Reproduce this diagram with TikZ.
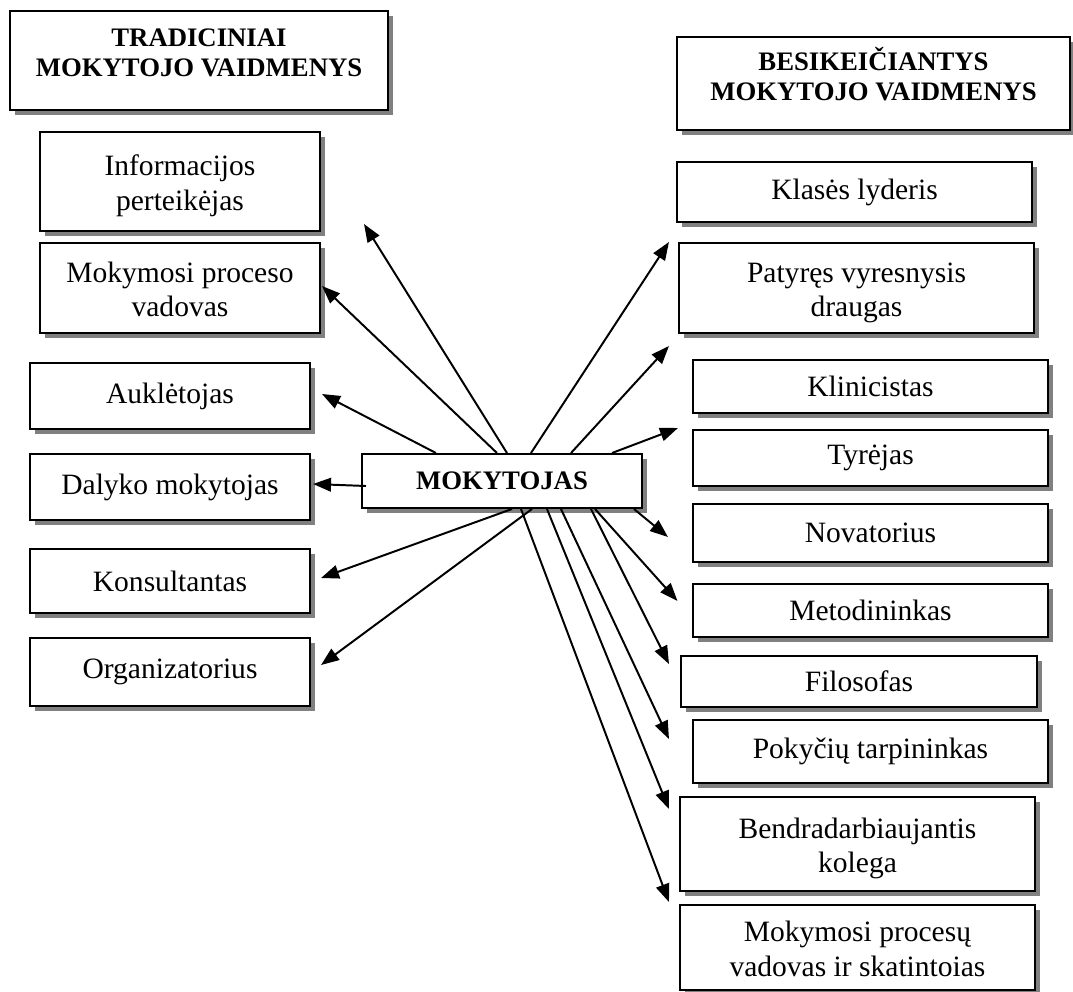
\documentclass[tikz,border=0pt]{standalone}
\usepackage{fontspec}
\setmainfont{Liberation Serif}
\usetikzlibrary{
  arrows.meta,
  calc,
  shadows
}
\tikzset{
  role/.style={
    draw,
    line width=1.4pt,
    fill=white,
    drop shadow={shadow xshift=0.13cm, shadow yshift=-0.13cm, fill=black!50, opacity=1},
    align=center,
    inner sep=0pt,
    font=\fontsize{21}{24.5}\selectfont},
  pair/.style={
    text height=1.55cm,
    text depth=0.11cm},
  head/.style={
    role,
    font=\fontsize{19}{21.3}\selectfont\bfseries},
  link/.style={
    -{Triangle[length=0.45cm,width=0.34cm]},
    line width=1.4pt}
  }

\begin{document}
\begin{tikzpicture}[x=0.025cm, y=-0.025cm]
    \useasboundingbox (0,0) rectangle (1073,992);
    \node[head, minimum width=9.45cm, minimum height=2.475cm, text height=0.9cm, text depth=0.1cm] (trad) at (199,60.5) {TRADICINIAI\\MOKYTOJO VAIDMENYS};
    \node[head, minimum width=9.825cm, minimum height=2.325cm, text height=0.925cm, text depth=0.1cm] (besi) at (873.5,83.5) {BESIKEIČIANTYS\\MOKYTOJO VAIDMENYS};
    \node[role, pair, minimum width=7cm, minimum height=2.475cm] (info) at (180,181.5) {Informacijos\\perteikėjas};
    \node[role, pair, minimum width=7cm, minimum height=2.25cm] (mpv) at (180,288) {Mokymosi proceso\\vadovas};
    \node[role, minimum width=7cm, minimum height=1.65cm] (auk) at (170,396) {Auklėtojas};
    \node[role, minimum width=7cm, minimum height=1.65cm] (dal) at (170,487) {Dalyko mokytojas};
    \node[role, minimum width=7cm, minimum height=1.6cm] (kon) at (170,581) {Konsultantas};
    \node[role, minimum width=7cm, minimum height=1.7cm] (org) at (170,672) {Organizatorius};
    \node[head, minimum width=7cm, minimum height=1.35cm] (mok) at (502,481) {MOKYTOJAS};
    \node[role, minimum width=8.875cm, minimum height=1.5cm] (kla) at (854.5,192) {Klasės lyderis};
    \node[role, pair, minimum width=8.875cm, minimum height=2.25cm] (pat) at (856.5,288) {Patyręs vyresnysis\\draugas};
    \node[role, minimum width=8.875cm, minimum height=1.325cm] (kli) at (870.5,386.5) {Klinicistas};
    \node[role, minimum width=8.875cm, minimum height=1.4cm] (tyr) at (870.5,458) {Tyrėjas};
    \node[role, minimum width=8.875cm, minimum height=1.45cm] (nov) at (870.5,533) {Novatorius};
    \node[role, minimum width=8.875cm, minimum height=1.325cm] (met) at (870.5,610.5) {Metodininkas};
    \node[role, minimum width=8.9cm, minimum height=1.275cm] (fil) at (859,681.5) {Filosofas};
    \node[role, minimum width=8.875cm, minimum height=1.575cm] (pok) at (870.5,751.5) {Pokyčių tarpininkas};
    \node[role, pair, minimum width=8.875cm, minimum height=2.35cm] (ben) at (857.5,844) {Bendradarbiaujantis\\kolega};
    \node[role, pair, minimum width=8.875cm, minimum height=2.125cm] (mps) at (857.5,947.5) {Mokymosi procesų\\vadovas ir skatintoias};
    \path [link]
      ($(mok.north west)+(146,0)$) edge ($(info.south east)+(43,-8)$)
      ($(mok.north west)+(136,0)$) edge ($(mpv.east)+(1,-2)$)
      ($(mok.north west)+(75,0)$) edge ($(auk.east)+(11,-2)$)
      ($(mok.west)+(5,5)$) edge ($(dal.east)+(2,-3)$)
      ($(mok.south west)+(151,0)$) edge ($(kon.east)+(10,-3)$)
      ($(mok.south west)+(171,0)$) edge ($(org.east)+(10,-7)$);
    \path [link]
      ($(mok.north west)+(170,0)$) edge ($(pat.north west)+(-9,0)$)
      ($(mok.north west)+(210,0)$) edge ($(pat.south west)+(-9,12)$)
      ($(mok.north west)+(251,0)$) edge ($(tyr.north west)+(-14,-1)$)
      ($(mok.south west)+(273,0)$) edge ($(nov.west)+(-24,4)$)
      ($(mok.south west)+(234,0)$) edge ($(met.west)+(-14.5,-9.5)$)
      ($(mok.south west)+(230,0)$) edge ($(fil.north west)+(-11,9)$)
      ($(mok.south west)+(200,0)$) edge ($(pok.west)+(-23,-12.5)$)
      ($(mok.south west)+(186,0)$) edge ($(ben.north west)+(-10,13)$)
      ($(mok.south west)+(160,0)$) edge ($(mps.north west)+(-10,-2)$);
\end{tikzpicture}
\end{document}
